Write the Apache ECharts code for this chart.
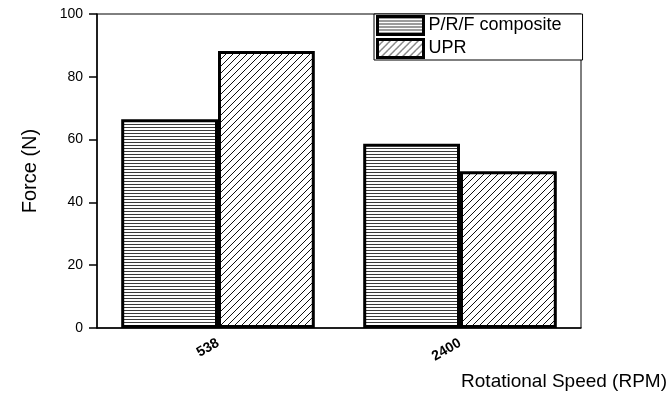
<!DOCTYPE html>
<html>
<head>
<meta charset="utf-8">
<script src="https://cdn.jsdelivr.net/npm/echarts@6/dist/echarts.min.js"></script>
<style>
html,body{margin:0;padding:0;background:#fff;}
#chart{width:670px;height:394px;}
</style>
</head>
<body>
<div id="chart"></div>
<script>
const categories = ['538', '2400'];
const seriesNames = ['P/R/F composite', 'UPR'];
const prfValues = [66.5, 58.7];
const uprValues = [88.2, 49.9];
const yTicks = [0, 20, 40, 60, 80, 100];

function hLinesPattern() {
  const c = document.createElement('canvas');
  c.width = 4; c.height = 3;
  const g = c.getContext('2d');
  g.fillStyle = '#fff'; g.fillRect(0, 0, 4, 3);
  g.fillStyle = '#3a3a3a'; g.fillRect(0, 1, 4, 1);
  return c;
}
function diagPattern() {
  const s = 7;
  const c = document.createElement('canvas');
  c.width = s; c.height = s;
  const g = c.getContext('2d');
  g.fillStyle = '#fff'; g.fillRect(0, 0, s, s);
  g.strokeStyle = '#111'; g.lineWidth = 1;
  g.beginPath();
  g.moveTo(0, s); g.lineTo(s, 0);
  g.moveTo(-1, 1); g.lineTo(1, -1);
  g.moveTo(s - 1, s + 1); g.lineTo(s + 1, s - 1);
  g.stroke();
  return c;
}

const FONT = 'Liberation Sans, Arial, sans-serif';
const chart = echarts.init(document.getElementById('chart'), null, {renderer: 'canvas'});
chart.setOption({
  animation: false,
  backgroundColor: '#fff',
  textStyle: {fontFamily: FONT, color: '#000'},
  grid: {left: 97, right: 88, top: 14, bottom: 66, show: true, borderColor: '#000', borderWidth: 1},
  legend: {
    left: 374, top: 14,
    orient: 'vertical',
    itemWidth: 46, itemHeight: 18, itemGap: 2,
    padding: [1, 21, 1, 2],
    backgroundColor: '#fff',
    borderColor: '#000', borderWidth: 1,
    textStyle: {fontSize: 18, lineHeight: 19, fontFamily: FONT, color: '#000'},
    itemStyle: {borderColor: '#000', borderWidth: 3},
    data: seriesNames.map(n => ({name: n, icon: 'rect'}))
  },
  xAxis: {
    type: 'category',
    data: categories,
    name: 'Rotational Speed (RPM)',
    nameLocation: 'end',
    nameGap: 86,
    nameTextStyle: {fontSize: 19, fontFamily: FONT, color: '#000', align: 'right', verticalAlign: 'top', padding: [44, 0, 0, 0]},
    axisLine: {lineStyle: {color: '#000', width: 1.5}},
    axisTick: {alignWithLabel: true, length: 6, lineStyle: {color: '#000', width: 1.5}},
    axisLabel: {rotate: 30, fontWeight: 'bold', fontSize: 14, color: '#000', margin: 14, fontFamily: FONT}
  },
  yAxis: {
    type: 'value',
    min: yTicks[0], max: yTicks[yTicks.length - 1], interval: 20,
    name: 'Force (N)',
    nameLocation: 'middle',
    nameGap: 57,
    nameTextStyle: {fontSize: 20, fontFamily: FONT, color: '#000'},
    splitLine: {show: false},
    axisLine: {show: true, lineStyle: {color: '#000', width: 1.5}},
    axisTick: {show: true, length: 8, lineStyle: {color: '#000', width: 1.5}},
    axisLabel: {fontSize: 14, color: '#000', margin: 14, fontFamily: FONT}
  },
  series: [
    {
      name: seriesNames[0], type: 'bar', data: prfValues,
      barGap: '0%', barCategoryGap: '20%',
      itemStyle: {color: {image: hLinesPattern(), repeat: 'repeat'}, borderColor: '#000', borderWidth: 3}
    },
    {
      name: seriesNames[1], type: 'bar', data: uprValues,
      barGap: '0%', barCategoryGap: '20%',
      itemStyle: {color: {image: diagPattern(), repeat: 'repeat'}, borderColor: '#000', borderWidth: 3}
    }
  ]
});
</script>
</body>
</html>
